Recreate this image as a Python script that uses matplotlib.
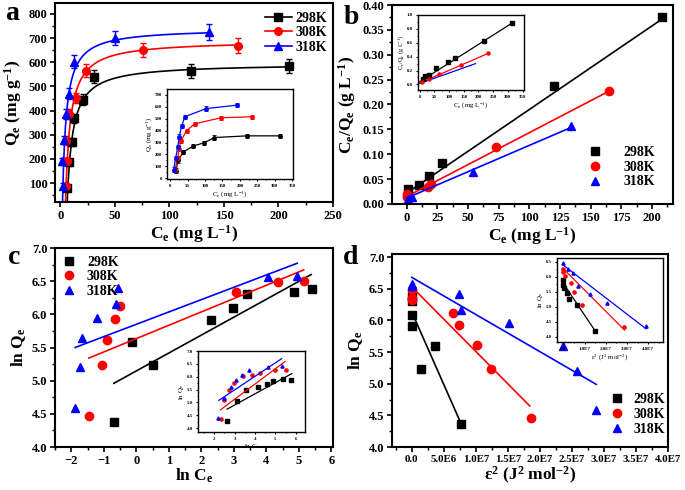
import numpy as np
import matplotlib
matplotlib.use("Agg")
import matplotlib.pyplot as plt
from matplotlib.ticker import AutoMinorLocator, FormatStrFormatter

# ---- data: panel a (Langmuir isotherm) ----
a_ce_298 = [6, 8, 10.6, 12, 21, 31, 120, 210]
a_qe_298 = [78, 186, 270, 368, 445, 541, 564, 585]
a_err_298 = [12, 14, 16, 18, 22, 25, 28, 28]
a_ce_308 = [5, 5.5, 6, 8, 14, 23, 76, 163]
a_qe_308 = [88, 275, 190, 385, 452, 565, 651, 669]
a_err_308 = [12, 18, 14, 20, 22, 27, 30, 32]
a_ce_318 = [2.4, 1.8, 3.4, 5, 7.5, 12, 50, 136]
a_qe_318 = [90, 191, 278, 385, 470, 602, 700, 725]
a_err_318 = [12, 14, 18, 20, 24, 27, 30, 35]
# fit parameters (qm, KL, C0, Cmax)
a_fit_298 = (595, 0.2, 6.0, 210)
a_fit_308 = (690, 0.23, 4.5, 163)
a_fit_318 = (740, 0.294, 1.8, 136)

# inset a
ai_ce_298 = [16, 23, 38, 66, 98, 127, 221, 314]
ai_qe_298 = [65, 150, 222, 270, 299, 342, 356, 356]
ai_ce_308 = [14, 22, 25, 31, 47, 70, 145, 234]
ai_qe_308 = [74, 171, 250, 313, 399, 456, 507, 516]
ai_ce_318 = [10, 16, 22, 26, 33, 42, 103, 192]
ai_qe_318 = [74, 171, 265, 350, 436, 516, 584, 613]

# ---- panel b (linear Langmuir) ----
b_ce_298 = [0.8, 10, 18.5, 29, 120, 208]
b_y_298 = [0.031, 0.038, 0.056, 0.082, 0.237, 0.375]
b_ce_308 = [0, 0.5, 17.7, 19.6, 73, 165]
b_y_308 = [0.021, 0.015, 0.035, 0.041, 0.115, 0.227]
b_ce_318 = [0.8, 4, 54, 134]
b_y_318 = [0.011, 0.015, 0.065, 0.157]
b_line_298 = (0.0, 210, 0.022, 0.375)
b_line_308 = (0.0, 165, 0.015, 0.227)
b_line_318 = (0.0, 135, 0.012, 0.155)

bi_ce_298 = [11, 17, 31, 57, 95, 120, 218, 313]
bi_y_298 = [0.077, 0.12, 0.14, 0.23, 0.327, 0.375, 0.625, 0.88]
bi_ce_308 = [6, 31, 65, 141, 233]
bi_y_308 = [0.03, 0.077, 0.15, 0.28, 0.447]
bi_line_298 = (0, 313, 0.04, 0.88)
bi_line_308 = (0, 233, 0.02, 0.447)
bi_line_318 = (0, 190, 0.015, 0.30)

# ---- panel c (Freundlich) ----
c_x_298 = [-0.69, -0.13, 0.51, 2.31, 2.97, 3.41, 4.85, 5.41]
c_y_298 = [4.37, 5.59, 5.23, 5.91, 6.10, 6.30, 6.33, 6.38]
c_x_308 = [-1.46, -1.06, -0.90, -0.64, -0.51, 3.06, 4.36, 5.16]
c_y_308 = [4.46, 5.24, 5.62, 5.93, 6.12, 6.34, 6.48, 6.51]
c_x_318 = [-1.88, -1.74, -1.66, -1.20, -0.62, -0.56, 4.05, 4.95]
c_y_318 = [4.59, 5.20, 5.65, 5.95, 6.15, 6.40, 6.56, 6.58]
c_line_298 = (-0.69, 5.38, 4.96, 6.60)
c_line_308 = (-1.46, 5.15, 5.34, 6.67)
c_line_318 = (-1.88, 4.95, 5.50, 6.77)

ci_x_298 = [2.63, 3.12, 3.55, 4.13, 4.58, 4.87, 5.37, 5.77]
ci_y_298 = [4.27, 5.05, 5.47, 5.60, 5.71, 5.84, 5.90, 5.88]
ci_x_308 = [2.33, 2.47, 2.70, 2.97, 3.42, 3.83, 4.25, 4.97, 5.50]
ci_y_308 = [4.37, 5.10, 5.49, 5.77, 6.01, 6.08, 6.15, 6.26, 6.26]
ci_x_318 = [2.17, 2.50, 2.80, 3.08, 3.38, 3.70, 4.62, 5.30]
ci_y_318 = [4.41, 5.16, 5.60, 5.88, 6.08, 6.25, 6.38, 6.40]
ci_line_298 = (2.63, 5.8, 4.74, 6.12)
ci_line_308 = (2.3, 5.47, 4.71, 6.59)
ci_line_318 = (2.22, 5.3, 5.08, 6.70)

# ---- panel d (D-R) ----
d_x_298 = [0, 0, 0, 0, 1.4e6, 3.64e6, 7.64e6]
d_y_298 = [6.39, 6.30, 6.09, 5.91, 5.23, 5.60, 4.37]
d_x_308 = [0, 0, 0, 6.5e6, 7.4e6, 1.02e7, 1.23e7, 1.86e7]
d_y_308 = [6.48, 6.35, 6.33, 6.11, 5.93, 5.61, 5.23, 4.46]
d_x_318 = [0, 0, 7.4e6, 7.7e6, 1.52e7, 2.36e7, 2.58e7, 2.88e7]
d_y_318 = [6.58, 6.55, 6.41, 6.16, 5.96, 5.60, 5.20, 4.59]
d_line_298 = (0, 7.64e6, 6.13, 4.38)
d_line_308 = (0, 1.84e7, 6.53, 4.65)
d_line_318 = (0, 2.88e7, 6.68, 4.99)

di_x_298 = [0, 0, 0.05e7, 0.15e7, 0.26e7, 0.62e7, 1.5e7]
di_y_298 = [5.89, 5.73, 5.62, 5.46, 5.27, 5.05, 4.19]
di_x_308 = [0, 0, 0.1e7, 0.34e7, 0.5e7, 0.9e7, 2.88e7]
di_y_308 = [6.26, 6.14, 6.01, 5.79, 5.49, 5.05, 4.31]
di_x_318 = [0, 0.2e7, 0.46e7, 0.7e7, 1.26e7, 2.05e7, 3.9e7]
di_y_318 = [6.47, 6.26, 6.11, 5.70, 5.42, 5.11, 4.35]
di_line_298 = (0, 1.5e7, 5.77, 4.19)
di_line_308 = (0, 2.88e7, 6.26, 4.22)
di_line_318 = (0, 3.9e7, 6.38, 4.26)

labels = ["298K", "308K", "318K"]
colors = ["black", "red", "blue"]
markers = ["s", "o", "^"]

plt.rcParams['font.family'] = ['Liberation Serif', 'DejaVu Serif']
plt.rcParams['font.weight'] = 'bold'
plt.rcParams['mathtext.fontset'] = 'custom'
plt.rcParams['mathtext.rm'] = 'Liberation Serif:bold'
plt.rcParams['mathtext.it'] = 'Liberation Serif:bold'
plt.rcParams['mathtext.bf'] = 'Liberation Serif:bold'

TICK = 9
LAB = 12.5
LEG = 10


def style(ax, fs, lw=1.5, tl=3.5):
    for s in ax.spines.values():
        s.set_linewidth(lw)
    ax.tick_params(which='major', direction='out', length=tl, width=lw * 0.8,
                   labelsize=fs, top=False, right=False, pad=2)
    ax.tick_params(which='minor', direction='out', length=tl * 0.55,
                   width=lw * 0.7, top=False, right=False)
    ax.xaxis.set_minor_locator(AutoMinorLocator(2))
    ax.yaxis.set_minor_locator(AutoMinorLocator(2))
    for t in ax.get_xticklabels() + ax.get_yticklabels():
        t.set_fontweight('bold')


def seg(ax, ln, c, lw=1.2):
    ax.plot([ln[0], ln[1]], [ln[2], ln[3]], color=c, lw=lw)


def lang(fit):
    qm, k, c0, cmax = fit
    x = np.linspace(c0, cmax, 300)
    return x, qm * k * (x - c0) / (1 + k * (x - c0))


fig = plt.figure(figsize=(6.85, 4.9), dpi=100)
W, H = 685.0, 490.0


def box(l, t, r, b):
    return [l / W, 1 - b / H, (r - l) / W, (b - t) / H]


ms = 5.5
leg_kw = dict(frameon=False, borderaxespad=0.0, labelspacing=0.12,
              prop={'weight': 'bold', 'size': LEG})

# ================= a =================
ax = fig.add_axes(box(55, 3, 333, 202))
sets_a = [(a_ce_298, a_qe_298, a_err_298, a_fit_298),
          (a_ce_308, a_qe_308, a_err_308, a_fit_308),
          (a_ce_318, a_qe_318, a_err_318, a_fit_318)]
for (x, y, e, fit), c, m, lab in zip(sets_a, colors, markers, labels):
    xx, yy = lang(fit)
    ax.plot(xx, yy, color=c, lw=1.2)
    ax.errorbar(x, y, yerr=e, fmt=m, color=c, ms=ms, capsize=2.5, elinewidth=1, capthick=1)
    ax.plot([], [], color=c, marker=m, ms=ms, lw=1.2, label=lab)
ax.set_xlim(-5, 250)
ax.set_ylim(22, 845)
ax.set_xticks(np.arange(0, 251, 50))
ax.set_yticks(np.arange(100, 801, 100))
style(ax, TICK)
ax.set_xlabel(r'C$_\mathregular{e}$ (mg L$^\mathregular{-1}$)', fontsize=LAB, fontweight='bold', labelpad=1)
ax.set_ylabel(r'Q$_\mathregular{e}$ (mg g$^\mathregular{-1}$)', fontsize=LAB, fontweight='bold', labelpad=3)
ax.legend(loc='upper right', bbox_to_anchor=(1.0, 0.985), handlelength=1.9,
          handletextpad=0.3, **leg_kw)

ai = fig.add_axes(box(167, 89, 293, 179))
for x, y, c in zip([ai_ce_298, ai_ce_308, ai_ce_318], [ai_qe_298, ai_qe_308, ai_qe_318], colors):
    ai.plot(x, y, color=c, lw=0.9)
    ai.errorbar(x, y, yerr=[18] * len(y), fmt='o', color=c, ms=2.5, capsize=1.2, elinewidth=0.6, capthick=0.6)
ai.set_xlim(-9, 352)
ai.set_ylim(-5, 748)
ai.set_xticks(np.arange(0, 351, 50))
ai.set_yticks(np.arange(0, 701, 100))
style(ai, 3.5, lw=1.0, tl=1.5)
ai.set_xlabel(r'C$_\mathregular{e}$ (mg L$^\mathregular{-1}$)', fontsize=5, labelpad=1)
ai.set_ylabel(r'Q$_\mathregular{e}$ (mg g$^\mathregular{-1}$)', fontsize=5, labelpad=1)
fig.text(12 / W, 1 - 13 / H, 'a', fontsize=20, fontweight='bold', va='center', ha='center')

# ================= b =================
ax = fig.add_axes(box(392, 5, 673, 204))
sets_b = [(b_ce_298, b_y_298, b_line_298), (b_ce_308, b_y_308, b_line_308),
          (b_ce_318, b_y_318, b_line_318)]
for (x, y, ln), c, m, lab in zip(sets_b, colors, markers, labels):
    seg(ax, ln, c)
    ax.plot(x, y, m, color=c, ms=ms + 0.5, label=lab, ls='none')
ax.set_xlim(-12, 217)
ax.set_ylim(0, 0.4)
ax.set_xticks(np.arange(0, 201, 25))
ax.set_yticks(np.arange(0, 0.401, 0.05))
ax.yaxis.set_major_formatter(FormatStrFormatter('%.2f'))
style(ax, TICK)
ax.set_xlabel(r'C$_\mathregular{e}$ (mg L$^\mathregular{-1}$)', fontsize=LAB, fontweight='bold', labelpad=1)
ax.set_ylabel(r'C$_\mathregular{e}$/Q$_\mathregular{e}$ (g L$^\mathregular{-1}$)', fontsize=LAB, fontweight='bold', labelpad=3)
ax.legend(loc='lower right', bbox_to_anchor=(0.955, 0.05), handletextpad=1.0, **leg_kw)

bi = fig.add_axes(box(418, 15, 524, 90))
for ln, c in zip([bi_line_298, bi_line_308, bi_line_318], colors):
    seg(bi, ln, c, lw=0.9)
bi.plot(bi_ce_298, bi_y_298, 's', color='black', ms=2.2)
bi.plot(bi_ce_308, bi_y_308, 'o', color='red', ms=2.2)
bi.set_xlim(-6, 355)
bi.set_ylim(-0.08, 1.0)
bi.set_xticks(np.arange(0, 351, 50))
bi.set_yticks(np.arange(0, 1.01, 0.2))
bi.yaxis.set_major_formatter(FormatStrFormatter('%.1f'))
style(bi, 3.5, lw=1.0, tl=1.5)
bi.set_xlabel(r'C$_\mathregular{e}$ (mg L$^\mathregular{-1}$)', fontsize=5, labelpad=1)
bi.set_ylabel(r'C$_\mathregular{e}$/Q$_\mathregular{e}$ (g L$^\mathregular{-1}$)', fontsize=4.5, labelpad=1)
fig.text(351 / W, 1 - 17 / H, 'b', fontsize=20, fontweight='bold', va='center', ha='center')

# ================= c =================
ax = fig.add_axes(box(55, 248, 333, 447))
sets_c = [(c_x_298, c_y_298, c_line_298), (c_x_308, c_y_308, c_line_308),
          (c_x_318, c_y_318, c_line_318)]
for (x, y, ln), c, m, lab in zip(sets_c, colors, markers, labels):
    seg(ax, ln, c)
    ax.plot(x, y, m, color=c, ms=ms + 0.5, label=lab, ls='none')
ax.set_xlim(-2.5, 6.05)
ax.set_ylim(4.0, 7.0)
ax.set_xticks(np.arange(-2, 7, 1))
ax.set_yticks(np.arange(4.0, 7.01, 0.5))
ax.yaxis.set_major_formatter(FormatStrFormatter('%.1f'))
style(ax, TICK)
ax.set_xlabel(r'ln C$_\mathregular{e}$', fontsize=LAB, fontweight='bold', labelpad=0)
ax.set_ylabel(r'ln Q$_\mathregular{e}$', fontsize=LAB, fontweight='bold', labelpad=3)
ax.legend(loc='upper left', bbox_to_anchor=(0.0, 0.99), handlelength=1.2,
          handletextpad=0.7, **leg_kw)

ci = fig.add_axes(box(198, 351, 305, 432))
for x, y, ln, c, m in zip([ci_x_298, ci_x_308, ci_x_318], [ci_y_298, ci_y_308, ci_y_318],
                          [ci_line_298, ci_line_308, ci_line_318], colors, markers):
    seg(ci, ln, c, lw=0.9)
    ci.plot(x, y, m, color=c, ms=2.3, ls='none')
ci.set_xlim(1.2, 6.45)
ci.set_ylim(3.85, 7.0)
ci.set_xticks(np.arange(2, 7, 1))
ci.set_yticks(np.arange(4.0, 7.01, 0.5))
ci.yaxis.set_major_formatter(FormatStrFormatter('%.1f'))
style(ci, 3.5, lw=1.0, tl=1.5)
ci.set_xlabel(r'ln C$_\mathregular{e}$', fontsize=5, labelpad=1)
ci.set_ylabel(r'ln Q$_\mathregular{e}$', fontsize=5, labelpad=1)
fig.text(14 / W, 1 - 257 / H, 'c', fontsize=20, fontweight='bold', va='center', ha='center')

# ================= d =================
ax = fig.add_axes(box(392, 254, 668, 447))
sets_d = [(d_x_298, d_y_298, d_line_298), (d_x_308, d_y_308, d_line_308),
          (d_x_318, d_y_318, d_line_318)]
for (x, y, ln), c, m, lab in zip(sets_d, colors, markers, labels):
    seg(ax, ln, c)
    ax.plot(x, y, m, color=c, ms=ms + 0.5, label=lab, ls='none')
ax.set_xlim(-3.1e6, 4.0e7)
ax.set_ylim(4.0, 7.05)
d_ticks = np.arange(0, 4.01e7, 5e6)
d_tick_labels = ['0.0', '5.0E6', '1.0E7', '1.5E7', '2.0E7', '2.5E7', '3.0E7', '3.5E7', '4.0E7']
ax.set_xticks(d_ticks)
ax.set_xticklabels(d_tick_labels)
ax.set_yticks(np.arange(4.0, 7.01, 0.5))
ax.yaxis.set_major_formatter(FormatStrFormatter('%.1f'))
style(ax, TICK)
ax.tick_params(axis='x', labelsize=7.8)
ax.set_xlabel(r'ε$^\mathregular{2}$ (J$^\mathregular{2}$ mol$^\mathregular{-2}$)', fontsize=LAB, fontweight='bold', labelpad=1)
ax.set_ylabel(r'ln Q$_\mathregular{e}$', fontsize=LAB, fontweight='bold', labelpad=3)
ax.legend(loc='lower right', bbox_to_anchor=(1.01, 0.03), handlelength=1.2,
          handletextpad=0.6, **leg_kw)

di = fig.add_axes(box(557, 258, 663, 342))
for x, y, ln, c, m in zip([di_x_298, di_x_308, di_x_318], [di_y_298, di_y_308, di_y_318],
                          [di_line_298, di_line_308, di_line_318], colors, markers):
    seg(di, ln, c, lw=0.9)
    di.plot(x, y, m, color=c, ms=2.3, ls='none')
di.set_xlim(-0.3e7, 4.7e7)
di.set_ylim(3.82, 6.62)
di.set_xticks(np.arange(0, 4.01e7, 1e7))
di.set_xticklabels(['0.0', '1.0E7', '2.0E7', '3.0E7', '4.0E7'])
di.set_yticks(np.arange(4.0, 6.51, 0.5))
di.yaxis.set_major_formatter(FormatStrFormatter('%.1f'))
style(di, 3.5, lw=1.0, tl=1.5)
di.set_xlabel(r'ε$^\mathregular{2}$ (J$^\mathregular{2}$ mol$^\mathregular{-2}$)', fontsize=5, labelpad=1)
di.set_ylabel(r'ln Q$_\mathregular{e}$', fontsize=5, labelpad=1)
fig.text(351 / W, 1 - 258 / H, 'd', fontsize=20, fontweight='bold', va='center', ha='center')

fig.savefig('out.png', dpi=100)
